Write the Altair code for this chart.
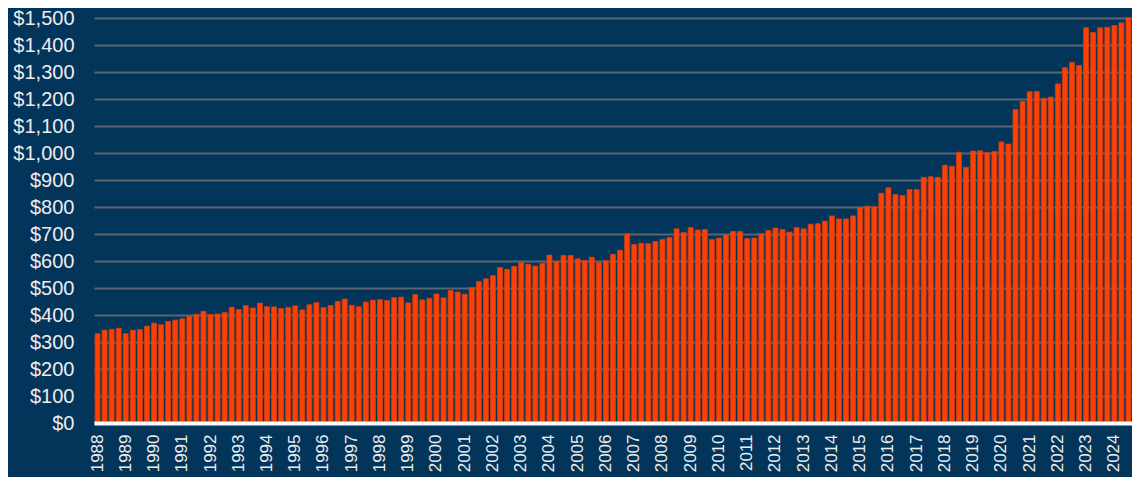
import altair as alt
import pandas as pd

years = list(range(1988, 2025))
quarters = ["Q1", "Q2", "Q3", "Q4"]

values = [
    331, 344, 347, 351,      # 1988
    331, 344, 346, 359,      # 1989
    370, 364, 376, 381,      # 1990
    386, 396, 403, 414,      # 1991
    402, 404, 409, 429,      # 1992
    420, 435, 426, 444,      # 1993
    431, 430, 424, 428,      # 1994
    434, 419, 438, 446,      # 1995
    428, 435, 450, 459,      # 1996
    436, 431, 448, 455,      # 1997
    457, 454, 464, 466,      # 1998
    445, 476, 456, 462,      # 1999
    478, 464, 491, 485,      # 2000
    477, 502, 524, 534,      # 2001
    546, 576, 569, 580,      # 2002
    594, 588, 581, 592,      # 2003
    622, 599, 620, 620,      # 2004
    608, 602, 614, 594,      # 2005
    601, 625, 640, 701,      # 2006
    661, 666, 664, 672,      # 2007
    680, 687, 719, 706,      # 2008
    724, 715, 717, 680,      # 2009
    685, 696, 709, 709,      # 2010
    683, 685, 701, 713,      # 2011
    722, 717, 707, 724,      # 2012
    719, 736, 738, 747,      # 2013
    767, 756, 756, 767,      # 2014
    799, 803, 801, 851,      # 2015
    871, 846, 843, 865,      # 2016
    865, 910, 912, 910,      # 2017
    955, 951, 1003, 947,     # 2018
    1007, 1008, 1002, 1006,  # 2019
    1041, 1033, 1161, 1191,  # 2020
    1227, 1228, 1203, 1207,  # 2021
    1256, 1316, 1335, 1324,  # 2022
    1464, 1446, 1464, 1466,  # 2023
    1472, 1482, 1502,        # 2024
]

y_ticks = list(range(0, 1501, 100))

periods = [f"{y} {q}" for y in years for q in quarters][: len(values)]
df = pd.DataFrame({"period": periods, "value": values})

BG = "#03345A"

chart = (
    alt.Chart(df)
    .mark_bar(color="#FF4000", stroke="#C9411C", strokeWidth=0.8)
    .encode(
        x=alt.X(
            "period:O",
            sort=periods,
            scale=alt.Scale(paddingInner=0.3, paddingOuter=0.15),
            axis=alt.Axis(
                title=None,
                labelExpr="indexof(datum.label, 'Q1') > 0 ? substring(datum.label, 0, 4) : ''",
                labelAngle=-90,
                labelFont="Liberation Sans",
                labelFontSize=17,
                labelColor="#EDEDED",
                labelPadding=11,
                labelOverlap=False,
                ticks=False,
                grid=False,
                domainColor="#FFFFFF",
                domainWidth=4,
                zindex=1,
            ),
        ),
        y=alt.Y(
            "value:Q",
            scale=alt.Scale(domain=[0, 1500], nice=False),
            axis=alt.Axis(
                title=None,
                values=y_ticks,
                format="$,d",
                labelFont="Liberation Sans",
                labelFontSize=20,
                labelColor="#EDEDED",
                labelPadding=20,
                ticks=False,
                domain=False,
                grid=True,
                gridColor="#5A6570",
                gridWidth=2,
            ),
        ),
    )
    .properties(
        width=1038,
        height=405,
        background=BG,
        padding={"left": 86, "top": 10, "right": 0, "bottom": 54},
        autosize=alt.AutoSizeParams(type="none"),
    )
    .configure_view(stroke=None)
)

chart.save("out.html", embed_options={"renderer": "svg", "actions": False})
